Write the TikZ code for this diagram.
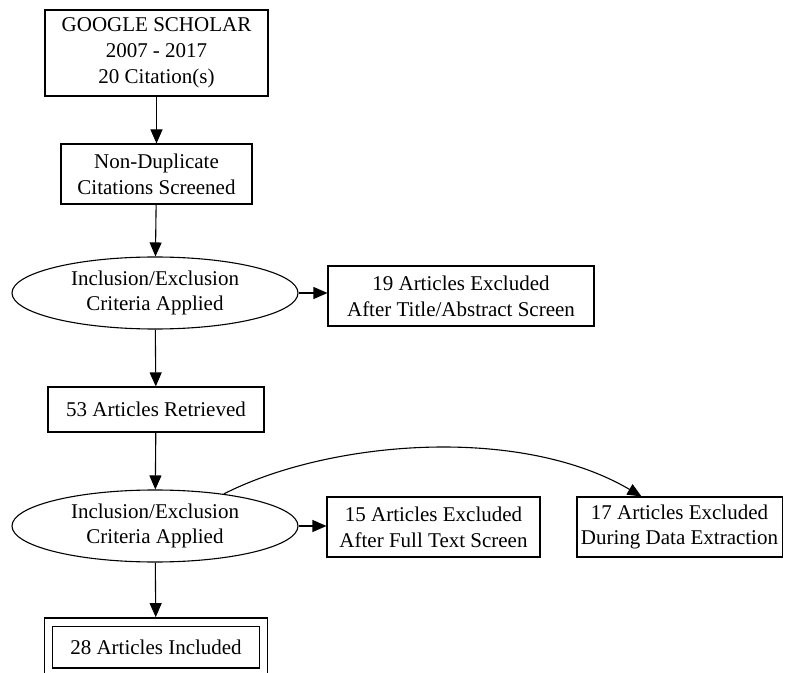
\documentclass[tikz,border=0pt]{standalone}
\usepackage{fontspec}
\setmainfont{Liberation Serif}
\usepackage{tikz}
\usetikzlibrary{shapes.geometric,arrows.meta,positioning}

\tikzset{
	stepbox/.style={rectangle,draw,line width=0.55pt,align=center,inner xsep=2pt,font=\fontsize{10.5}{12.9}\selectfont},
	critoval/.style={ellipse,draw,line width=0.55pt,align=center,inner sep=0pt,minimum width=143pt,minimum height=36pt,font=\fontsize{10.5}{12.9}\selectfont},
	flow/.style={line width=0.55pt,-{Triangle[length=7pt,width=6pt]}}
}

\begin{document}
\begin{tikzpicture}[x=0.5pt,y=-0.5pt]
	\useasboundingbox (0,0) rectangle (808,673);
	
	\node[stepbox,minimum width=111.5pt,minimum height=43pt] (GS) at (156.5,53) {GOOGLE SCHOLAR\\2007 - 2017\\20 Citation(s)};
	
	\node[stepbox,minimum width=95.5pt,minimum height=30pt] (ND) at (156.5,174) {Non-Duplicate\\Citations Screened};
	
	\node[critoval] (IE1) at (155,293) {Inclusion/Exclusion\\Criteria Applied};
	
	\node[stepbox,minimum width=133pt,minimum height=30pt] (EX19) at (461,296) {19 Articles Excluded\\After Title/Abstract Screen};
	
	\node[stepbox,minimum width=108pt,minimum height=22.5pt] (RET53) at (156,409.5) {53 Articles Retrieved};
	
	\node[critoval] (IE2) at (155,526) {Inclusion/Exclusion\\Criteria Applied};
	
	\node[stepbox,minimum width=106.5pt,minimum height=30pt] (EX15) at (433.5,527) {15 Articles Excluded\\After Full Text Screen};
	
	\node[stepbox,minimum width=96.5pt,minimum height=30pt] (EX17) at (679.5,527) {17 Articles Excluded\\During Data Extraction};
	
	\node[stepbox,double,double distance=3.5pt,minimum width=107.5pt,minimum height=25pt,outer sep=2.4pt] (INC28) at (156,647) {28 Articles Included};
	
	\coordinate (Into EX17) at ([xshift=-19pt]EX17.north);
	
	\draw[flow] (GS) -- (ND);
	\draw[flow] (ND) -- (IE1);
	\draw[flow] (IE1.east) -- (EX19.west|-IE1.east);
	\draw[flow] (IE1) -- (RET53);
	\draw[flow] (RET53) -- (IE2);
	\draw[flow] (IE2.east) -- (EX15.west|-IE2.east);
	\draw[flow] (IE2.25) .. controls (330,440) and (520,425) .. (Into EX17);
	\draw[flow] (IE2) -- (INC28);
	
\end{tikzpicture}
\end{document}
